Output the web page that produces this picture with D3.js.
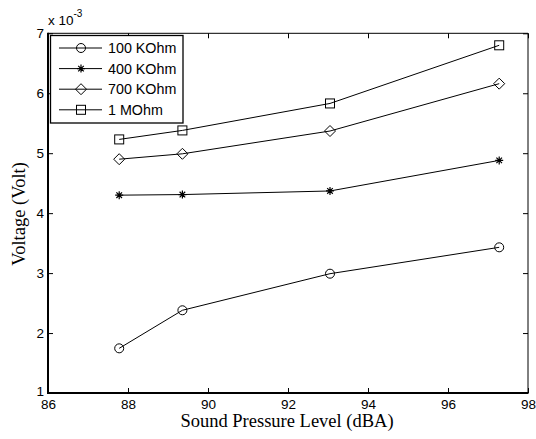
<!DOCTYPE html>
<html><head><meta charset="utf-8">
<script src="https://cdn.jsdelivr.net/npm/d3@7"></script>
<style>body{margin:0;background:#fff}</style>
</head><body>
<svg id="c" width="536" height="439"></svg>
<script>
const splValues = [87.78, 89.36, 93.05, 97.28];
const series100k = [1.745, 2.38, 2.99, 3.43];
const series400k = [4.30, 4.31, 4.37, 4.88];
const series700k = [4.90, 4.99, 5.37, 6.16];
const series1M = [5.23, 5.38, 5.83, 6.80];
const seriesNames = ["100 KOhm", "400 KOhm", "700 KOhm", "1 MOhm"];
const seriesMarkers = ["circle", "star", "diamond", "square"];
const xTicks = [86, 88, 90, 92, 94, 96, 98];
const yTicks = [1, 2, 3, 4, 5, 6, 7];
const allSeries = [series100k, series400k, series700k, series1M];

const svg = d3.select("#c");
const L = 48, R = 528, T = 33.3, B = 393;
const x = d3.scaleLinear().domain([86, 98]).range([L, R]);
const y = d3.scaleLinear().domain([1, 7]).range([B, T]);

const tickFont = "Liberation Sans, Arial, sans-serif";
const fmt = d3.format("d");
const ax = svg.append("g").attr("transform", `translate(0,${B})`)
  .call(d3.axisBottom(x).tickValues(xTicks).tickFormat(fmt).tickSizeInner(-5).tickSizeOuter(0).tickPadding(6));
const axT = svg.append("g").attr("transform", `translate(0,${T})`)
  .call(d3.axisTop(x).tickValues(xTicks).tickSizeInner(-5).tickSizeOuter(0).tickFormat(""));
const ay = svg.append("g").attr("transform", `translate(${L},0)`)
  .call(d3.axisLeft(y).tickValues(yTicks).tickFormat(fmt).tickSizeInner(-5).tickSizeOuter(0).tickPadding(4));
const ayR = svg.append("g").attr("transform", `translate(${R},0)`)
  .call(d3.axisRight(y).tickValues(yTicks).tickSizeInner(-5).tickSizeOuter(0).tickFormat(""));
[ax, axT, ay, ayR].forEach(g => {
  g.select(".domain").remove();
  g.selectAll("line").attr("stroke", "#000").attr("stroke-width", 1);
  g.selectAll("text").attr("font-family", tickFont).attr("font-size", 13.5).attr("fill", "#000");
});
// nudge the lowest y label up slightly so it does not touch the "86" label
ay.selectAll(".tick").filter(d => d === 1).select("text").attr("dy", "0.22em");
// box
svg.append("line").attr("x1", L).attr("x2", R).attr("y1", T).attr("y2", T).attr("stroke", "#000").attr("stroke-width", 1);
svg.append("line").attr("x1", R).attr("x2", R).attr("y1", T).attr("y2", B).attr("stroke", "#000").attr("stroke-width", 1);
svg.append("line").attr("x1", L).attr("x2", R + 0.5).attr("y1", B).attr("y2", B).attr("stroke", "#000").attr("stroke-width", 2);
svg.append("line").attr("x1", L).attr("x2", L).attr("y1", T - 0.5).attr("y2", B + 1).attr("stroke", "#000").attr("stroke-width", 2);

// multiplier
const mult = svg.append("text").attr("x", 48).attr("y", 25).attr("font-family", tickFont).attr("font-size", 13.5);
mult.append("tspan").text("x 10");
mult.append("tspan").attr("dy", -8).attr("font-size", 10).text("-3");

// axis labels
const serif = "Liberation Serif, Times New Roman, serif";
svg.append("text").attr("x", 287).attr("y", 427).attr("text-anchor", "middle")
  .attr("font-family", serif).attr("font-size", 18.5).text("Sound Pressure Level (dBA)");
svg.append("text").attr("transform", `translate(25,214) rotate(-90)`).attr("text-anchor", "middle")
  .attr("font-family", serif).attr("font-size", 18.5).text("Voltage (Volt)");

function drawMarker(g, type, cx, cy) {
  if (type === "circle") {
    g.append("circle").attr("cx", cx).attr("cy", cy).attr("r", 4.5).attr("fill", "none").attr("stroke", "#000");
  } else if (type === "square") {
    g.append("rect").attr("x", cx - 4.5).attr("y", cy - 4.5).attr("width", 9).attr("height", 9).attr("fill", "none").attr("stroke", "#000");
  } else if (type === "diamond") {
    g.append("path").attr("d", `M${cx},${cy - 5.5}L${cx + 5.5},${cy}L${cx},${cy + 5.5}L${cx - 5.5},${cy}Z`).attr("fill", "none").attr("stroke", "#000");
  } else if (type === "star") {
    const s = 4;
    const d = `M${cx - s},${cy}L${cx + s},${cy}M${cx},${cy - s}L${cx},${cy + s}M${cx - s * 0.7},${cy - s * 0.7}L${cx + s * 0.7},${cy + s * 0.7}M${cx - s * 0.7},${cy + s * 0.7}L${cx + s * 0.7},${cy - s * 0.7}`;
    g.append("path").attr("d", d).attr("fill", "none").attr("stroke", "#000").attr("stroke-width", 1.2);
  }
}

const line = d3.line().x(d => x(d[0])).y(d => y(d[1]));
allSeries.forEach((vals, i) => {
  const pts = splValues.map((v, j) => [v, vals[j]]);
  const g = svg.append("g");
  g.append("path").attr("d", line(pts)).attr("fill", "none").attr("stroke", "#000").attr("stroke-width", 1);
  pts.forEach(p => drawMarker(g, seriesMarkers[i], x(p[0]), y(p[1])));
});

// legend
const lg = svg.append("g");
lg.append("rect").attr("x", 50.5).attr("y", 35.5).attr("width", 132.5).attr("height", 87.5)
  .attr("fill", "#fff").attr("stroke", "#000").attr("stroke-width", 1.3);
seriesNames.forEach((name, i) => {
  const yy = 48 + i * 20.6;
  lg.append("line").attr("x1", 59).attr("x2", 102).attr("y1", yy).attr("y2", yy).attr("stroke", "#000");
  drawMarker(lg, seriesMarkers[i], 81, yy);
  lg.append("text").attr("x", 108).attr("y", yy + 5).attr("font-family", tickFont).attr("font-size", 14.3).text(name);
});
</script>
</body></html>
